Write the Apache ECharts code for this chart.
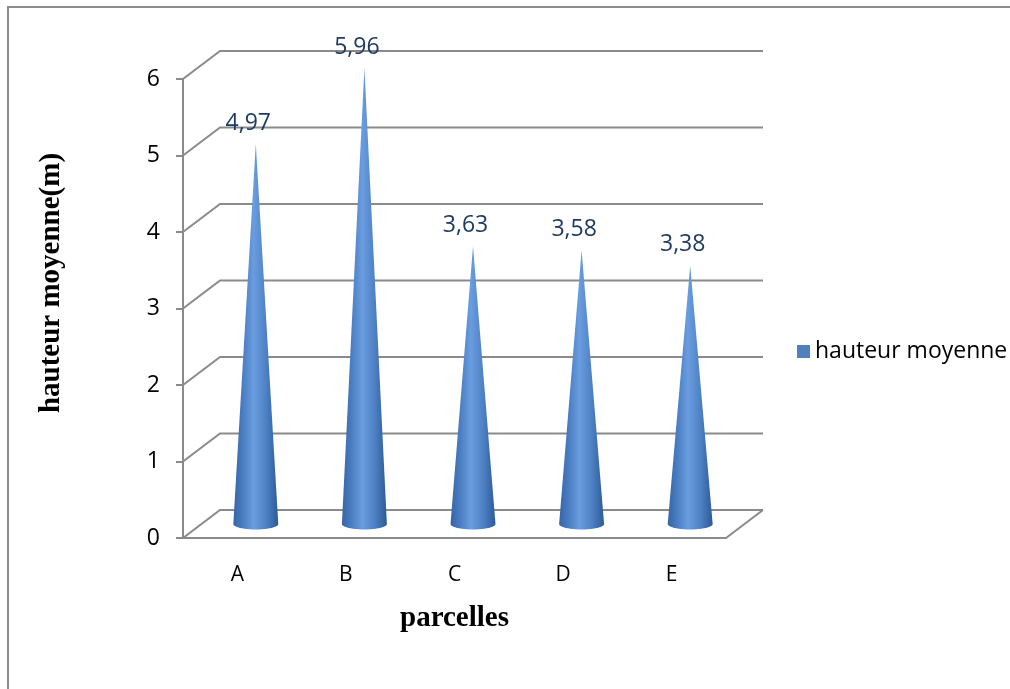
<!DOCTYPE html>
<html>
<head>
<meta charset="utf-8">
<script src="https://cdn.jsdelivr.net/npm/echarts@6/dist/echarts.min.js"></script>
<style>
html,body{margin:0;padding:0;background:#fff;}
#chart{width:1010px;height:689px;}
</style>
</head>
<body>
<div id="chart"></div>
<script>
const categories = ['A', 'B', 'C', 'D', 'E'];
const hauteurMoyenne = [4.97, 5.96, 3.63, 3.58, 3.38];
const yTicks = [0, 1, 2, 3, 4, 5, 6];
const seriesName = 'hauteur moyenne';
const yTitle = 'hauteur moyenne(m)';
const xTitle = 'parcelles';

const GRID_COLOR = '#8a8a8a';
const BACK_DX = 37, BACK_DY = -28;     // depth of the 3D box
const MID_DX = 18.5, MID_DY = -14;     // cones stand mid-depth
const LABEL_FONT = '"Open Sans", sans-serif';
const TITLE_FONT = '"Liberation Serif", "Times New Roman", serif';

const chart = echarts.init(document.getElementById('chart'), null, {renderer: 'canvas'});

function fmt(v) { return v.toFixed(2).replace('.', ','); }

const option = {
  backgroundColor: '#fff',
  animation: false,
  graphic: [
    {
      type: 'rect', shape: {x: 8, y: 7, width: 1100, height: 800},
      style: {fill: 'none', stroke: '#8c8c8c', lineWidth: 2}, silent: true, z: -10
    },
    {
      type: 'text', x: 52, y: 283, rotation: Math.PI / 2,
      style: {
        text: yTitle, align: 'center', verticalAlign: 'middle',
        font: 'bold 29px ' + TITLE_FONT, fill: '#000'
      }
    }
  ],
  legend: {
    left: 792, top: 335, orient: 'vertical',
    icon: 'rect', itemWidth: 13, itemHeight: 13, itemGap: 8,
    textStyle: {fontFamily: LABEL_FONT, fontSize: 23, color: '#000'},
    data: [seriesName]
  },
  grid: {left: 183, right: 284, top: 79, bottom: 151, containLabel: false},
  xAxis: {
    type: 'category', data: categories,
    axisLine: {show: true, lineStyle: {color: GRID_COLOR, width: 2}},
    axisTick: {show: false},
    axisLabel: {fontFamily: LABEL_FONT, fontSize: 21, color: '#000', margin: 27},
    name: xTitle, nameLocation: 'middle', nameGap: 66,
    nameTextStyle: {fontFamily: TITLE_FONT, fontSize: 29, fontWeight: 'bold', color: '#000'}
  },
  yAxis: {
    type: 'value', min: 0, max: 6, interval: 1,
    axisLine: {show: true, lineStyle: {color: GRID_COLOR, width: 2}},
    axisTick: {show: true, length: 7, lineStyle: {color: GRID_COLOR, width: 2}},
    axisLabel: {fontFamily: LABEL_FONT, fontSize: 23, color: '#000', margin: 23},
    splitLine: {show: false}
  },
  series: [
    {
      type: 'custom', name: 'wall', silent: true, z: 1,
      data: yTicks.map(t => [0, t]),
      renderItem: function (params, api) {
        const t = api.value(1);
        const band = api.size([1, 0])[0];
        const pL = api.coord([0, t]);
        const pR = api.coord([categories.length - 1, t]);
        const xL = pL[0] - band / 2, xR = pR[0] + band / 2, y = pL[1];
        const children = [{
          type: 'polyline',
          shape: {points: [[xL, y], [xL + BACK_DX, y + BACK_DY], [xR + BACK_DX, y + BACK_DY]]},
          style: {fill: 'none', stroke: GRID_COLOR, lineWidth: 2}
        }];
        if (t === 0) {
          children.push({
            type: 'line',
            shape: {x1: xR, y1: y, x2: xR + BACK_DX, y2: y + BACK_DY},
            style: {stroke: GRID_COLOR, lineWidth: 2}
          });
        }
        return {type: 'group', children: children};
      }
    },
    {
      type: 'custom', name: seriesName, z: 5,
      itemStyle: {color: '#4f81bd'},
      data: hauteurMoyenne.map((v, i) => [i, v]),
      renderItem: function (params, api) {
        const i = api.value(0), v = api.value(1);
        const band = api.size([1, 0])[0];
        const base = api.coord([i, 0]);
        const top = api.coord([i, v]);
        const cx = base[0] + MID_DX, by = base[1] + MID_DY;
        const ty = top[1] + MID_DY;
        const hw = band * 0.207, ry = 5.5;
        const pts = [[cx, ty], [cx + hw, by]];
        const N = 24;
        for (let k = 1; k < N; k++) {
          const a = Math.PI * k / N;
          pts.push([cx + hw * Math.cos(a), by + ry * Math.sin(a)]);
        }
        pts.push([cx - hw, by]);
        return {
          type: 'group',
          children: [
            {
              type: 'polygon', shape: {points: pts},
              style: {
                fill: {
                  type: 'linear', x: 0, y: 0, x2: 1, y2: 0,
                  colorStops: [
                    {offset: 0, color: '#3565a6'},
                    {offset: 0.22, color: '#4b7ec2'},
                    {offset: 0.45, color: '#6a9ddf'},
                    {offset: 0.72, color: '#4f82c5'},
                    {offset: 1, color: '#2c5a96'}
                  ]
                }
              }
            },
            {
              type: 'text',
              style: {
                x: cx - 7.5, y: ty - 9, text: fmt(v),
                align: 'center', verticalAlign: 'bottom',
                font: '23px ' + LABEL_FONT, fill: '#1f3b63'
              }
            }
          ]
        };
      }
    }
  ]
};
chart.setOption(option);
</script>
</body>
</html>
